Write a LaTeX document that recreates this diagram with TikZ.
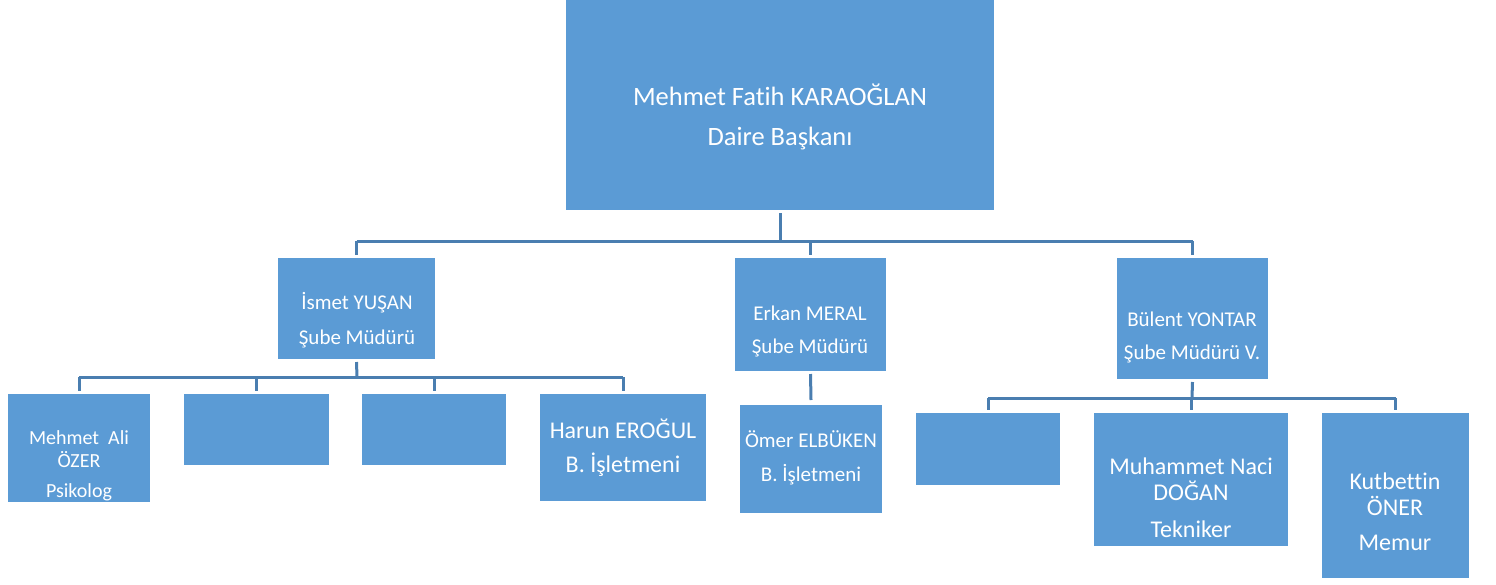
\documentclass[tikz,border=0pt]{standalone}
\usepackage{fontspec}
\setmainfont{Carlito}[Ligatures={NoCommon}]
\definecolor{boxblue}{RGB}{91,155,213}
\definecolor{lineblue}{RGB}{74,126,176}
\begin{document}
\begin{tikzpicture}[x=1pt,y=-1pt,
  box/.style={fill=boxblue,draw=none,text=white,align=center,inner sep=0pt},
  conn/.style={draw=lineblue,line width=3pt}]
\useasboundingbox (0,0) rectangle (1496,584);
% boxes: corners
\newcommand{\bx}[6]{%
  \path[box] (#2,#3) rectangle (#4,#5);
  \node[text=white,align=center,inner sep=0pt] (#1) at ({(#2+#4)/2},{(#3+#5)/2}) {#6};
  \coordinate (#1-t) at ({(#2+#4)/2},#3);
  \coordinate (#1-b) at ({(#2+#4)/2},#5);
}
\bx{top}{566}{0}{994}{210}{}
\node[font=\fontsize{26.5}{40}\selectfont,text=white,align=center] at (780,117) {Mehmet Fatih KARAOĞLAN\\Daire Başkanı};
\bx{ismet}{278}{258}{435}{359}{}
\node[font=\fontsize{21}{35}\selectfont,text=white,align=center] at (357,320) {İsmet YUŞAN\\Şube Müdürü};
\bx{erkan}{735}{258}{886}{371}{}
\node[font=\fontsize{21}{33}\selectfont,text=white,align=center] at (810,331) {Erkan MERAL\\Şube Müdürü};
\bx{bulent}{1117}{258}{1268}{379}{}
\node[font=\fontsize{21}{33}\selectfont,text=white,align=center] at (1192,337) {Bülent YONTAR\\Şube Müdürü V.};
% level 3 under Ismet
\bx{mehmet}{8}{394}{150}{502}{}
\node[font=\fontsize{20}{23}\selectfont,text=white,align=center] at (79,449) {Mehmet~ Ali\\ÖZER};
\node[font=\fontsize{20}{23}\selectfont,text=white] at (79,492) {Psikolog};
\bx{blankA}{184}{394}{329}{465}{}
\bx{blankB}{362}{394}{506}{465}{}
\bx{harun}{540}{394}{706}{501}{}
\node[font=\fontsize{24}{34}\selectfont,text=white,align=center] at (623,448) {Harun EROĞUL\\B. İşletmeni};
% under Erkan
\bx{omer}{740}{405}{882}{513}{}
\node[font=\fontsize{21}{34}\selectfont,text=white,align=center] at (811,458) {Ömer ELBÜKEN\\B. İşletmeni};
% under Bulent
\bx{blankC}{916}{413}{1060}{485}{}
\bx{muh}{1094}{413}{1288}{546}{}
\node[font=\fontsize{24}{26}\selectfont,text=white,align=center] at (1191,479) {Muhammet Naci\\DOĞAN};
\node[font=\fontsize{24}{26}\selectfont,text=white] at (1191,529) {Tekniker};
\bx{kut}{1322}{413}{1469}{578}{}
\node[font=\fontsize{24}{26}\selectfont,text=white,align=center] at (1395,494) {Kutbettin\\ÖNER};
\node[font=\fontsize{24}{26}\selectfont,text=white] at (1395,543) {Memur};
% connectors level 1
\coordinate (j1) at (780,241);
\draw[conn] ([yshift=-3]top-b) -- (j1);
\draw[conn] (ismet-t |- j1) -- (bulent-t |- j1);
\draw[conn] (ismet-t |- j1) -- ([yshift=3]ismet-t);
\draw[conn] (erkan-t |- j1) -- ([yshift=3]erkan-t);
\draw[conn] (bulent-t |- j1) -- ([yshift=3]bulent-t);
% ismet children
\coordinate (j2) at (357,377);
\draw[conn] ([yshift=-3]ismet-b) -- (j2);
\draw[conn] (mehmet-t |- j2) -- (harun-t |- j2);
\foreach \n in {mehmet,blankA,blankB,harun}
  \draw[conn] (\n-t |- j2) -- ([yshift=3]\n-t);
% erkan child
\draw[conn] ([yshift=-3]erkan-b) -- ([yshift=5]omer-t);
% bulent children
\coordinate (j3) at (1192,398);
\draw[conn] ([yshift=-3]bulent-b) -- (j3);
\draw[conn] (blankC-t |- j3) -- (kut-t |- j3);
\foreach \n in {blankC,muh,kut}
  \draw[conn] (\n-t |- j3) -- ([yshift=3]\n-t);
\end{tikzpicture}
\end{document}
